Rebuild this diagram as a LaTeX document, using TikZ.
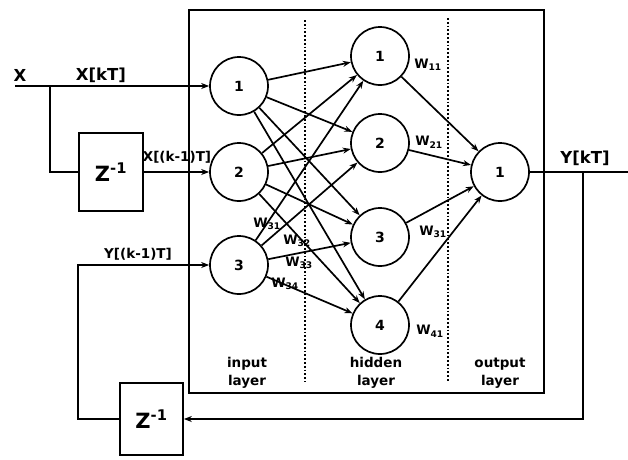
\documentclass[tikz,border=0pt]{standalone}
\usepackage{fontspec}
\setmainfont{DejaVu Sans}
\usetikzlibrary{arrows.meta, positioning}

\begin{document}
\begin{tikzpicture}[
  x=1pt, y=-1pt,
  neuron/.style={circle, draw, line width=1.7pt, minimum size=58pt, inner sep=0pt,
                 font=\fontsize{14}{16}\selectfont\bfseries},
  delay/.style={rectangle, draw, line width=1.7pt, inner sep=0pt,
                font=\fontsize{21}{23}\selectfont\bfseries},
  sig/.style={font=\fontsize{16.5}{18}\selectfont\bfseries, inner sep=0pt},
  wlab/.style={font=\fontsize{13}{15}\selectfont\bfseries, inner sep=0pt},
  layer/.style={font=\fontsize{13.5}{18}\selectfont\bfseries, align=center},
  wire/.style={line width=1.7pt},
  arr/.style={-{Stealth[length=8pt, width=6pt]}, line width=1.7pt},
  sep/.style={dotted, line width=1.8pt}
]
  \useasboundingbox (0,0) rectangle (628,459);

  % network frame and layer separators
  \node[draw, line width=1.7pt, minimum width=355pt, minimum height=383pt] (net) at (366.5,201.5) {};
  \draw[sep] (305,20) -- (305,382);
  \draw[sep] (448,18) -- (448,382);

  % neurons
  \node[neuron] (in1) at (239,86) {1};
  \node[neuron] (in2) at (239,172) {2};
  \node[neuron] (in3) at (239,265) {3};

  \node[neuron] (hid1) at (380,56) {1};
  \node[neuron] (hid2) at (380,143) {2};
  \node[neuron] (hid3) at (380,237) {3};
  \node[neuron] (hid4) at (380,325) {4};

  \node[neuron] (out) at (500,172) {1};

  % delay blocks
  \node[delay, minimum width=64pt, minimum height=78pt] (zin) at (111,172) {Z\textsuperscript{-1}};
  \node[delay, minimum width=63pt, minimum height=72pt] (zfb) at (151.5,419) {Z\textsuperscript{-1}};

  % input side
  \coordinate (xin) at (15,86);
  \coordinate (xsplit) at (50,86);
  \draw[arr] (xin) -- (in1);
  \draw[wire] (xsplit) |- (zin);
  \draw[arr] (zin) -- (in2);

  % output and feedback
  \coordinate (yend) at (628,172);
  \coordinate (ytap) at (583,172);
  \coordinate (fbcorner) at (78,419);
  \draw[wire] (out) -- (yend);
  \draw[arr] (ytap) |- (zfb);
  \draw[arr] (zfb) -- (fbcorner) |- (in3);

  % input -> hidden
  \draw[arr] (in1) -- (hid1);
  \draw[arr] (in1) -- (hid2);
  \draw[arr] (in1) -- (hid3);
  \draw[arr] (in1) -- (hid4);
  \draw[arr] (in2) -- (hid1);
  \draw[arr] (in2) -- (hid2);
  \draw[arr] (in2) -- (hid3);
  \draw[arr] (in2) -- (hid4);
  \draw[arr] (in3) -- (hid1);
  \draw[arr] (in3) -- (hid2);
  \draw[arr] (in3) -- (hid3);
  \draw[arr] (in3) -- (hid4);

  % hidden -> output
  \draw[arr] (hid1) -- (out);
  \draw[arr] (hid2) -- (out);
  \draw[arr] (hid3) -- (out);
  \draw[arr] (hid4) -- (out);

  % signal labels
  \node[sig] (lx) at (20,75) {X};
  \node[sig] (lxk) at (101,75) {X[kT]};
  \node[sig, font=\fontsize{13.5}{15}\selectfont\bfseries] (lxk1) at (177,157) {X[(k-1)T]};
  \node[sig, font=\fontsize{13.5}{15}\selectfont\bfseries] (lyk1) at (138,254) {Y[(k-1)T]};
  \node[sig] (lyk) at (585,158) {Y[kT]};

  % weights
  \node[wlab] (w11) at (428,65) {W\textsubscript{11}};
  \node[wlab] (w21) at (429,142) {W\textsubscript{21}};
  \node[wlab] (wo31) at (433,232) {W\textsubscript{31}};
  \node[wlab] (w41) at (430,331) {W\textsubscript{41}};
  \node[wlab] (w31) at (267,224) {W\textsubscript{31}};
  \node[wlab] (w32) at (297,241) {W\textsubscript{32}};
  \node[wlab] (w33) at (299,263) {W\textsubscript{33}};
  \node[wlab] (w34) at (285,284) {W\textsubscript{34}};

  % layer names
  \node[layer] (linput) at (247,373) {input\\layer};
  \node[layer] (lhidden) at (376,373) {hidden\\layer};
  \node[layer] (loutput) at (500,373) {output\\layer};
\end{tikzpicture}
\end{document}
